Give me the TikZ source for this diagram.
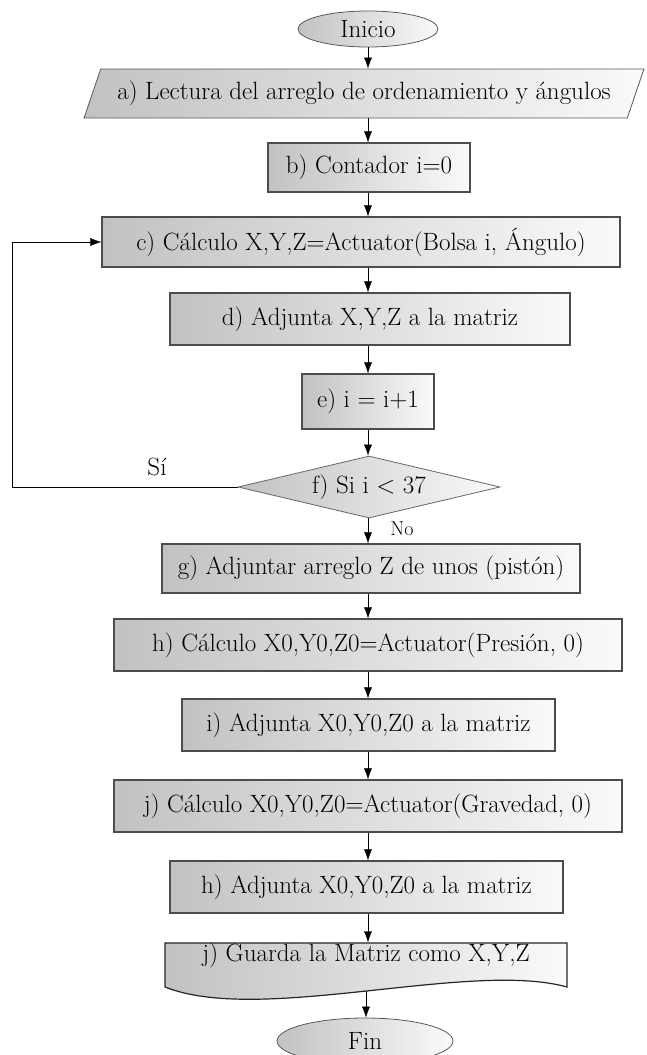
\documentclass[tikz,border=0pt]{standalone}
\usepackage{tikz}
\usetikzlibrary{arrows.meta,shapes.geometric}
\newcommand{\flecha}[2]{\draw[->] (#1.south -| eje) -- (#2.north -| eje);}

\begin{document}
\begin{tikzpicture}[x=1pt, y=-1pt, >={Latex[length=11pt,width=8pt]},
    every node/.style={font=\fontsize{25}{30}\selectfont, inner sep=0pt},
    relleno/.style={left color=black!24, right color=black!2},
    caja/.style={rectangle, relleno, draw=black!70, line width=1.3pt},
    terminal/.style={ellipse, relleno, draw=black!65, line width=0.8pt},
    datos/.style={trapezium, trapezium left angle=58, trapezium right angle=122,
        trapezium stretches=true, relleno, draw=black!65, line width=0.8pt},
    decision/.style={diamond, aspect=4.2, relleno, draw=black!60, line width=0.8pt}]
    \useasboundingbox (0,0) rectangle (646,1055);
    \coordinate (eje) at (368,0);
    \coordinate (izq) at (12,0);
    \node[terminal, minimum width=140, minimum height=36] (inicio) at (368,29) {Inicio};
    \node[datos, minimum width=564, minimum height=49] (lectura) at (364,93.5)
        {a) Lectura del arreglo de ordenamiento y ángulos};
    \node[caja, minimum width=202, minimum height=49] (contador) at (369,167.5) {b) Contador i=0};
    \node[caja, minimum width=518, minimum height=50] (calculo) at (361,242)
        {c) Cálculo X,Y,Z=Actuator(Bolsa i, Ángulo)};
    \node[caja, minimum width=400, minimum height=52] (adjunta) at (370,319)
        {d) Adjunta X,Y,Z a la matriz};
    \node[caja, minimum width=132, minimum height=55] (incremento) at (368,401.5) {e) i = i+1};
    \node[decision, minimum width=262, minimum height=62] (condicion) at (369,487) {f) Si i < 37};
    \node[caja, minimum width=418, minimum height=49] (unos) at (371,568.5)
        {g) Adjuntar arreglo Z de unos (pistón)};
    \node[caja, minimum width=508, minimum height=52] (presion) at (368,645)
        {h) Cálculo X0,Y0,Z0=Actuator(Presión, 0)};
    \node[caja, minimum width=373, minimum height=52] (adjuntaP) at (368.5,725)
        {i) Adjunta X0,Y0,Z0 a la matriz};
    \node[caja, minimum width=508, minimum height=52] (gravedad) at (368,806)
        {j) Cálculo X0,Y0,Z0=Actuator(Gravedad, 0)};
    \node[caja, minimum width=393, minimum height=52] (adjuntaG) at (366.5,887)
        {h) Adjunta X0,Y0,Z0 a la matriz};
    \shade[relleno, draw=black!85, line width=1.2pt] (165,943) -- (567,943) -- (567,987)
        .. controls (470,960) and (260,1025) .. (165,987) -- cycle;
    \node[minimum width=402, minimum height=24] (guardar) at (366,955)
        {j) Guarda la Matriz como X,Y,Z};
    \coordinate (ola) at (366,991);
    \node[terminal, minimum width=176, minimum height=46] (fin) at (365,1041) {Fin};
    \flecha{inicio}{lectura}
    \flecha{lectura}{contador}
    \flecha{contador}{calculo}
    \flecha{calculo}{adjunta}
    \flecha{adjunta}{incremento}
    \flecha{incremento}{condicion}
    \flecha{condicion}{unos}
    \flecha{unos}{presion}
    \flecha{presion}{adjuntaP}
    \flecha{adjuntaP}{gravedad}
    \flecha{gravedad}{adjuntaG}
    \flecha{adjuntaG}{guardar}
    \draw[->] (ola) -- (fin.north -| ola);
    \draw[->] (condicion.west) -- (condicion.west -| izq) -- (calculo.west -| izq) -- (calculo.west);
    \node (si) at (157,467) {Sí};
    \node[font=\fontsize{20}{24}\selectfont] (no) at (402,529) {No};
\end{tikzpicture}
\end{document}
